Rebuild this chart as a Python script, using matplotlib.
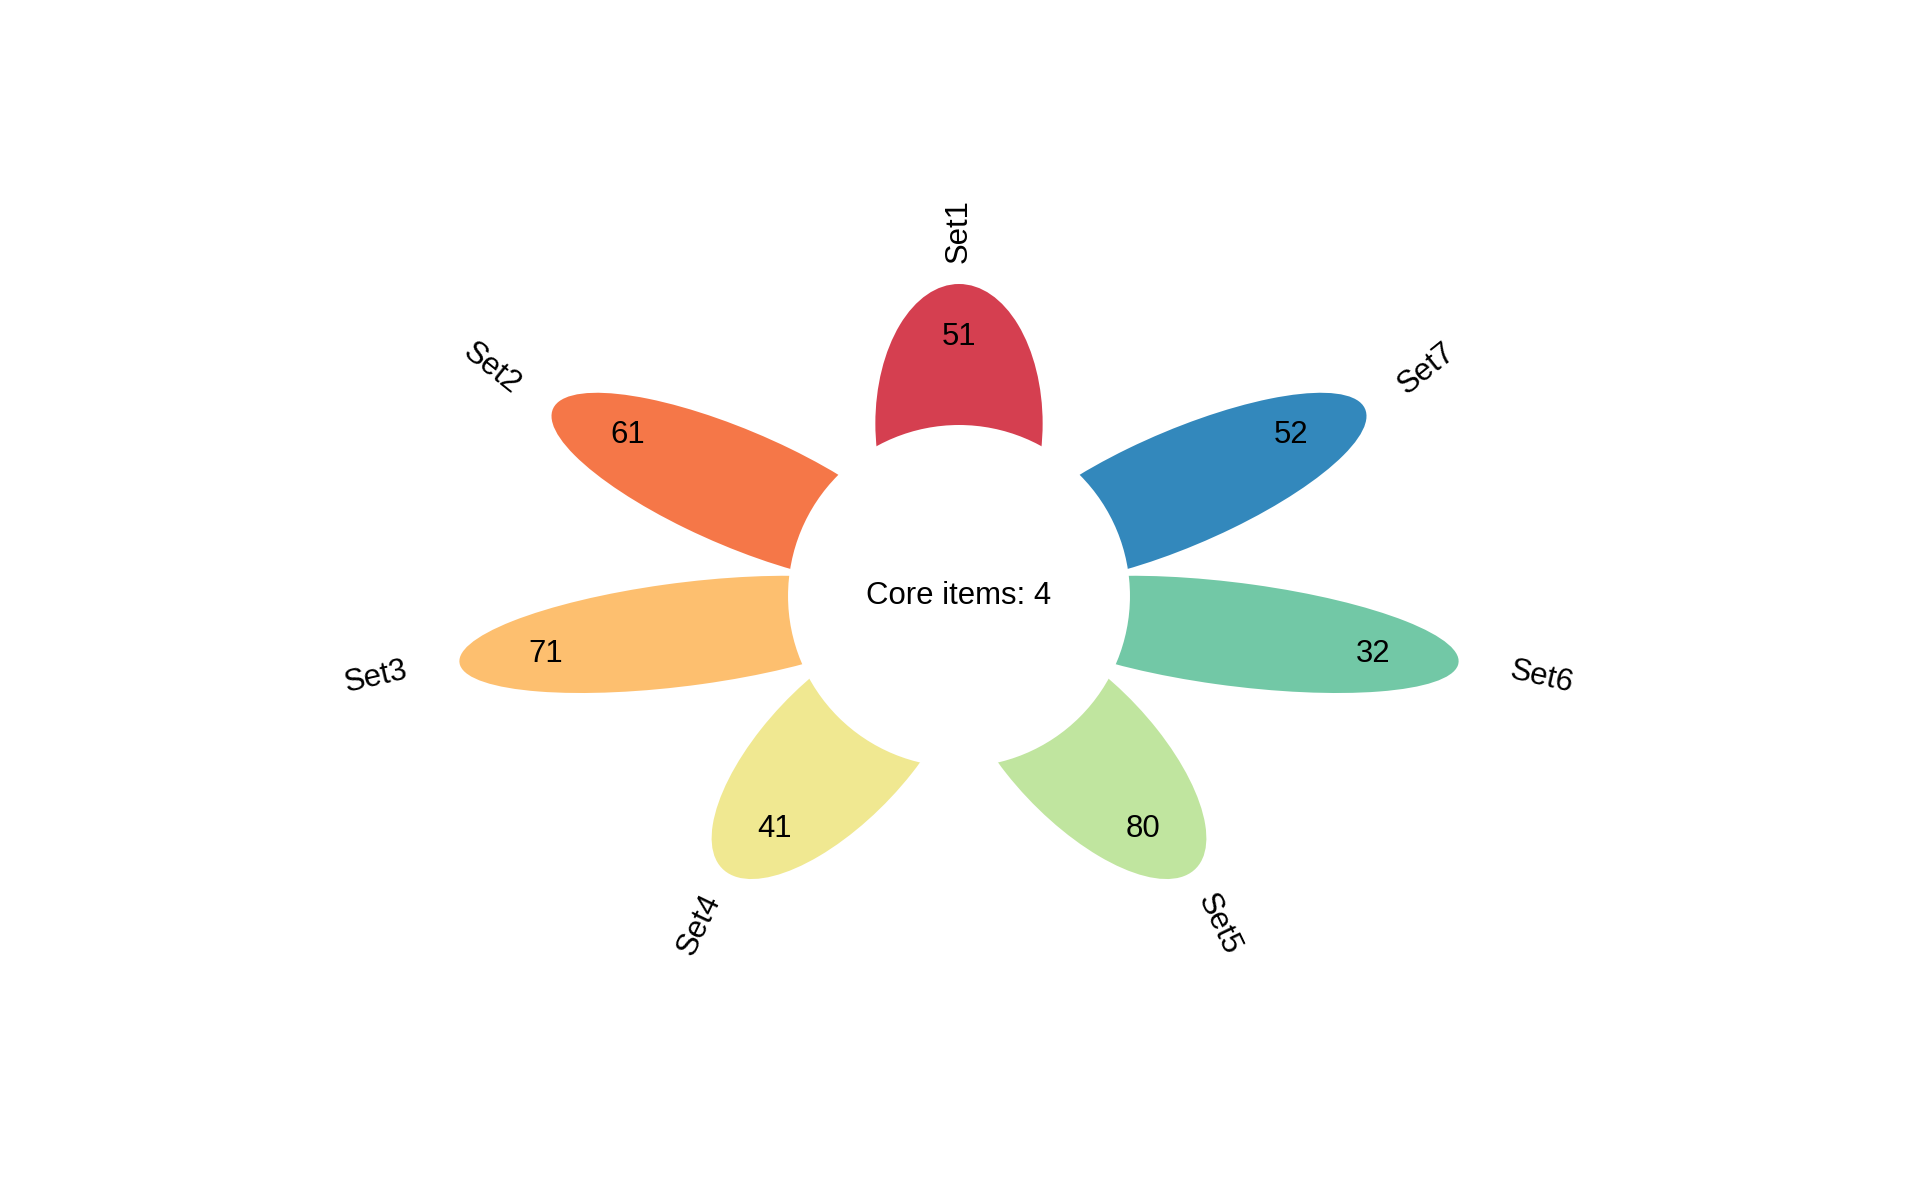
import numpy as np
import matplotlib
matplotlib.use("Agg")
import matplotlib.pyplot as plt
from matplotlib.patches import Ellipse

# ---- data ----
set_names = ["Set1", "Set2", "Set3", "Set4", "Set5", "Set6", "Set7"]
unique_counts = [51, 61, 71, 41, 80, 32, 52]
core_count = 4
petal_colors = ["#D53F50", "#F57748", "#FDBF6F", "#F0E891", "#C0E59F", "#72C8A6", "#3388BC"]

# ---- geometry (data units) ----
petal_center_r = 1.15
petal_width = 1.86
petal_height = 0.68
number_r = 1.725
label_r = 2.43
core_w, core_h = 1.39, 2.28

plt.rcParams["font.family"] = ["Liberation Sans", "DejaVu Sans"]

fig = plt.figure(figsize=(12, 7.4125), dpi=160)
ax = fig.add_axes([0, 0, 1, 1])
ax.set_xlim(-959 / 246, 961 / 246)
ax.set_ylim(-590 / 150, 596 / 150)
ax.axis("off")

n = len(set_names)
for i, (name, cnt, col) in enumerate(zip(set_names, unique_counts, petal_colors)):
    ang = 90 + i * 360.0 / n
    t = np.deg2rad(ang)
    cx, cy = petal_center_r * np.cos(t), petal_center_r * np.sin(t)
    ax.add_patch(Ellipse((cx, cy), petal_width, petal_height, angle=ang,
                         facecolor=col, edgecolor="none", zorder=1))
    ax.text(number_r * np.cos(t), number_r * np.sin(t), str(cnt),
            ha="center", va="center", fontsize=14, color="black", zorder=3)
    rot = ang - 180 if 90 < ang % 360 < 270 else ang
    rot = ((rot + 180) % 360) - 180
    if ang % 360 == 90:
        rot = 90
    ax.text(label_r * np.cos(t), label_r * np.sin(t), name,
            ha="center", va="center", fontsize=14, rotation=rot,
            rotation_mode="anchor", color="black", zorder=3)

ax.add_patch(Ellipse((0, 0), core_w, core_h, facecolor="white",
                     edgecolor="none", zorder=2))
ax.text(0, 0, f"Core items: {core_count}", ha="center", va="center",
        fontsize=14, color="black", zorder=3)

fig.savefig("out.png", dpi=160, facecolor="white")
